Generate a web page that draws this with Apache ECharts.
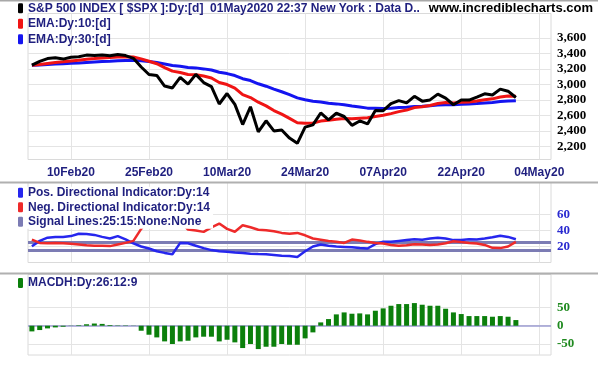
<!DOCTYPE html>
<html><head><meta charset="utf-8">
<script src="https://cdn.jsdelivr.net/npm/echarts@6/dist/echarts.min.js"></script>
<style>html,body{margin:0;padding:0;background:#fff}#c{width:602px;height:365px}</style>
</head><body><div id="c"></div>
<script>
// ---- categories (trading days) ----
const dates = ['03Feb20','04Feb20','05Feb20','06Feb20','07Feb20','10Feb20','11Feb20','12Feb20','13Feb20','14Feb20',
'18Feb20','19Feb20','20Feb20','21Feb20','24Feb20','25Feb20','26Feb20','27Feb20','28Feb20','02Mar20',
'03Mar20','04Mar20','05Mar20','06Mar20','09Mar20','10Mar20','11Mar20','12Mar20','13Mar20','16Mar20',
'17Mar20','18Mar20','19Mar20','20Mar20','23Mar20','24Mar20','25Mar20','26Mar20','27Mar20','30Mar20',
'31Mar20','01Apr20','02Apr20','03Apr20','06Apr20','07Apr20','08Apr20','09Apr20','13Apr20','14Apr20',
'15Apr20','16Apr20','17Apr20','20Apr20','21Apr20','22Apr20','23Apr20','24Apr20','27Apr20','28Apr20',
'29Apr20','30Apr20','01May20'];
const futureSlots = ['f1','f2','f3','f4'];
const categories = dates.concat(futureSlots);

// ---- tick labels ----
const tickIndex = [5, 15, 25, 35, 45, 55, 65];
const tickLabels = ['10Feb20','25Feb20','10Mar20','24Mar20','07Apr20','22Apr20','04May20'];
const priceTicks = [2200, 2400, 2600, 2800, 3000, 3200, 3400, 3600];
const diTicks = [20, 40, 60];
const macdTicks = [-50, 0, 50];

// ---- series values ----
const close = [3248.9,3297.6,3334.7,3345.8,3327.7,3352.1,3357.8,3379.5,3373.9,3380.2,
3370.3,3386.2,3373.2,3337.8,3225.9,3128.2,3116.4,2978.8,2954.2,3090.2,
3003.4,3130.1,3023.9,2972.4,2746.6,2882.2,2741.4,2480.6,2711.0,2386.1,
2529.2,2398.1,2409.4,2304.9,2237.4,2447.3,2475.6,2630.1,2541.5,2626.7,
2584.6,2470.5,2526.9,2488.7,2663.7,2659.4,2750.0,2789.8,2761.6,2846.1,
2783.4,2799.6,2874.6,2823.2,2736.6,2799.3,2797.8,2836.7,2878.5,2863.4,
2939.5,2912.4,2830.7];
const ema10 = [3249,3258,3272,3285,3293,3304,3314,3326,3334,3343,
3348,3355,3358,3354,3331,3300,3268,3218,3172,3155,
3128,3126,3108,3084,3025,2998,2952,2868,2830,2770,
2722,2662,2616,2560,2504,2496,2500,2525,2535,2550,
2558,2556,2562,2568,2585,2600,2622,2648,2668,2700,
2712,2728,2753,2766,2760,2768,2773,2785,2802,2813,
2836,2850,2847];
const ema30 = [3249,3252,3257,3263,3267,3273,3278,3285,3291,3296,
3301,3307,3311,3313,3307,3296,3284,3264,3244,3234,
3219,3214,3201,3187,3158,3140,3115,3074,3050,3008,
2977,2939,2905,2867,2826,2802,2781,2771,2756,2748,
2737,2720,2708,2693,2692,2689,2693,2700,2704,2713,
2717,2723,2732,2738,2738,2742,2746,2752,2760,2767,
2778,2786,2790];
const diPlus = [20.4,27,31,32,32,33,36,35.5,34.5,32,
30,33,29,24,20,17.5,14,12,10.4,24.5,
24,21,18,15.5,14,13.5,12.5,12,11,10.5,
10.4,9.5,8.5,8,7,14,20,22.5,21,20,
19.5,19,18,17.5,23,26,26,27,28,29,
28.5,30,31,30,28,28,29,28.7,30,31.5,
33.5,32,29];
const diMinus = [28.7,24.5,24,24.5,24,23.5,22.5,21.5,21,20.8,
20.5,22.5,24.5,27,42,55,58,60,57,52,
41.2,40,38.3,44,48.7,42,38.5,46.6,44,41,
40.4,39,37,36,37,34,30,28.5,27,26,
24.5,28.7,27.5,25.8,24.5,23.7,22,20.8,21.5,22.9,
22.5,22,22.5,24,26.6,25.5,24.5,23.7,22,18.3,
18,20,25.8];
const macdh = [-15.5,-11.8,-7.3,-4.6,-2.7,-0.5,1.5,4,6,5,
2,1,1,-0.5,-13.7,-24.6,-31.9,-42.8,-50,-42.8,
-41,-31.9,-30,-30,-42.8,-38.3,-45.5,-61,-50,-63.8,
-57.4,-57.4,-50,-52,-52,-34.6,-18.2,9.1,18.2,31,
36.4,32.8,33.7,31,41,47.4,54.6,59.2,59.2,61.9,
57.4,54.6,54.6,46.4,36.4,31.9,26.4,26.4,26.4,24.6,
26.4,24.6,15.5];
const signalLevels = [25, 15];

const names = {
  price: 'S&P 500 INDEX [ $SPX ]:Dy:[d]  01May2020 22:37 New York : Data D..',
  ema10: 'EMA:Dy:10:[d]', ema30: 'EMA:Dy:30:[d]',
  pos: 'Pos. Directional Indicator:Dy:14', neg: 'Neg. Directional Indicator:Dy:14',
  sig: 'Signal Lines:25:15:None:None', macdh: 'MACDH:Dy:26:12:9'
};

const SANS = '"Liberation Sans", Arial, sans-serif';
const SERIF = '"Liberation Serif", "Times New Roman", serif';
const NAVY = '#1f1f7f';
const GRIDC = '#e4e4e4';

const fmtThousands = v => String(v).replace(/\B(?=(\d{3})+(?!\d))/g, ',');
const vLines = () => ({
  silent: true, symbol: 'none', z: 1, animation: false,
  label: {show: false}, lineStyle: {color: GRIDC, width: 1, type: 'solid'},
  data: tickIndex.map(i => ({xAxis: i}))
});

const grids = [
  {left: 28, right: 51, top: 13.5, height: 146},
  {left: 28, right: 51, top: 182.5, height: 80},
  {left: 28, right: 51, top: 274.5, height: 80.5}
].map(g => Object.assign(g, {show: true, borderColor: '#dadada', borderWidth: 1, containLabel: false}));

const xAxes = [0, 1, 2].map(g => ({
  type: 'category', gridIndex: g, data: categories, boundaryGap: true,
  axisLine: {show: false}, axisTick: {show: false}, splitLine: {show: false},
  axisLabel: g === 0 ? {
    show: true, interval: (i) => tickIndex.indexOf(i) >= 0,
    formatter: (v, i) => tickLabels[tickIndex.indexOf(i)] || '',
    color: NAVY, fontWeight: 'bold', fontSize: 12, fontFamily: SANS, margin: 7
  } : {show: false}
}));

function yAx(g, min, max, ticks, color, fmt) {
  return {
    type: 'value', gridIndex: g, position: 'right', min: min, max: max,
    axisLine: {show: false},
    axisTick: {show: false, customValues: ticks},
    axisLabel: {customValues: ticks, formatter: fmt, color: color, fontFamily: SERIF,
      fontWeight: 'bold', fontSize: 13, margin: 6},
    splitLine: {show: true, lineStyle: {color: GRIDC, width: 1}}
  };
}
const yAxes = [
  yAx(0, 2028, 3918, priceTicks, '#000000', fmtThousands),
  yAx(1, 0, 100, diTicks, '#2a2ad0', v => String(v)),
  yAx(2, -80, 140, macdTicks, '#1f8a1f', v => String(v))
];

const legendText = {color: NAVY, fontWeight: 'bold', fontSize: 12, fontFamily: SANS, lineHeight: 12};
const legendBase = {orient: 'vertical', left: 18, itemWidth: 5, itemHeight: 10, icon: 'roundRect',
  selectedMode: false, textStyle: legendText};

const option = {
  animation: false,
  backgroundColor: '#ffffff',
  title: {text: 'www.incrediblecharts.com', right: 9, top: 1, padding: 0,
    textStyle: {color: '#000', fontWeight: 'bold', fontSize: 13, fontFamily: SANS, lineHeight: 14}},
  grid: grids, xAxis: xAxes, yAxis: yAxes,
  legend: [
    Object.assign({}, legendBase, {top: 2.3, itemGap: 3.5, padding: 0, data: [names.price, names.ema10, names.ema30]}),
    Object.assign({}, legendBase, {top: 186.7, itemGap: 2.5, padding: [0, 3, 1, 0], backgroundColor: '#ffffff',
      data: [names.pos, names.neg, names.sig]}),
    Object.assign({}, legendBase, {top: 277, itemGap: 2, padding: 0, data: [names.macdh]})
  ],
  graphic: [
    {type: 'line', shape: {x1: 0, y1: 0.7, x2: 598, y2: 0.7}, style: {stroke: '#a8a8a8', lineWidth: 1.5}, z: 10},
    {type: 'line', shape: {x1: 0, y1: 182.5, x2: 598, y2: 182.5}, style: {stroke: '#b0b0b0', lineWidth: 2}, z: 10},
    {type: 'line', shape: {x1: 0, y1: 273.5, x2: 598, y2: 273.5}, style: {stroke: '#b0b0b0', lineWidth: 2}, z: 10}
  ],
  series: [
    {name: names.ema30, type: 'line', xAxisIndex: 0, yAxisIndex: 0, data: ema30, showSymbol: false,
      color: '#1414f0', lineStyle: {width: 3, color: '#1414f0'}, markLine: vLines()},
    {name: names.ema10, type: 'line', xAxisIndex: 0, yAxisIndex: 0, data: ema10, showSymbol: false,
      color: '#f01414', lineStyle: {width: 3, color: '#f01414'}},
    {name: names.price, type: 'line', xAxisIndex: 0, yAxisIndex: 0, data: close, showSymbol: false,
      color: '#000000', lineStyle: {width: 3, color: '#000000'}},

    {name: names.sig, type: 'line', xAxisIndex: 1, yAxisIndex: 1, data: [], showSymbol: false,
      color: '#7c7cb4', lineStyle: {color: '#7c7cb4'},
      markLine: {silent: true, symbol: 'none', z: 1.5, animation: false, label: {show: false},
        lineStyle: {color: '#7c7cb4', width: 3, type: 'solid'},
        data: signalLevels.map(v => ({yAxis: v}))}},
    {name: names.pos, type: 'line', xAxisIndex: 1, yAxisIndex: 1, data: diPlus, showSymbol: false,
      color: '#2626ee', lineStyle: {width: 2.5, color: '#2626ee'}, markLine: vLines()},
    {name: names.neg, type: 'line', xAxisIndex: 1, yAxisIndex: 1, data: diMinus, showSymbol: false,
      color: '#ee2a2a', lineStyle: {width: 2.5, color: '#ee2a2a'}},

    {name: names.macdh, type: 'bar', xAxisIndex: 2, yAxisIndex: 2, data: macdh, barWidth: 5,
      color: '#0b7f0b', itemStyle: {color: '#0b7f0b'},
      markLine: {silent: true, symbol: 'none', z: 1, animation: false, label: {show: false},
        lineStyle: {color: GRIDC, width: 1, type: 'solid'},
        data: tickIndex.map(i => ({xAxis: i})).concat([{yAxis: 0, lineStyle: {color: '#9c9cd2', width: 1.5}}])}}
  ]
};

const chart = echarts.init(document.getElementById('c'), null, {renderer: 'canvas'});
chart.setOption(option);
</script>
</body></html>
